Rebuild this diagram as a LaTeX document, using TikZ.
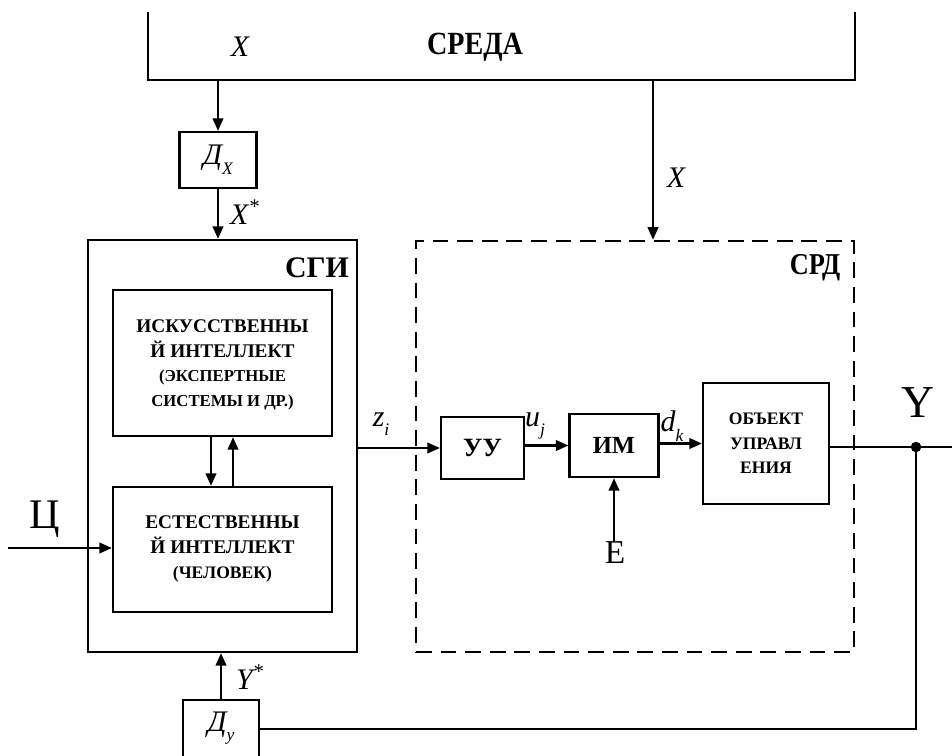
\documentclass[tikz,border=0pt]{standalone}
\usepackage{fontspec}
\setmainfont{Liberation Serif}
\usetikzlibrary{arrows.meta,positioning,calc}
\newcommand{\lowsub}[1]{\raisebox{-0.7ex}{\fontsize{10}{10}\selectfont #1}}

\begin{document}
\begin{tikzpicture}[
  x=0.02cm,y=-0.02cm,
  font=\bfseries\fontsize{11}{14}\selectfont,
  b/.style={draw,line width=1.3pt,align=center,inner sep=1pt},
  lab/.style={inner sep=0pt,font=\itshape\fontsize{17}{17}\selectfont},
  rom/.style={inner sep=0pt,font=\fontsize{#1}{#1}\selectfont},
  l/.style={line width=1.3pt},
  a/.style={l,-{Triangle[length=2.5mm,width=2.1mm]}},
  dsh/.style={line width=1.5pt,dash pattern=on 9pt off 5pt}]

\path[use as bounding box,clip] (0,0) rectangle (952,756);

% environment
\draw[l] (148,12) -- (148,80) -- (855,80) -- (855,12);
\coordinate (sx) at (218,80);
\coordinate (sx2) at (653,80);
\node[lab] (xa) at (240,47) {X};
\node[inner sep=0pt,font=\bfseries\fontsize{16}{16}\selectfont] (env) at (475,47) {\scalebox{1}[1.15]{СРЕДА}};

% sensor X
\node[b,minimum width=1.54cm,minimum height=1.12cm] (dx) at (218,160) {};
\node[lab] at (dx) {Д\lowsub{X}};
\draw[a] (sx) -- (dx.north);
\node[lab] (xs) at (245,212) {X\textsuperscript{*}};

% СГИ
\node[b,minimum width=5.38cm,minimum height=8.24cm] (sgi) at (222.5,446) {};
\draw[a] (dx.south) -- (dx.south |- sgi.north);
\node[inner sep=0pt,font=\bfseries\fontsize{17}{17}\selectfont] (sgil) at (317,268) {СГИ};
\node[b,minimum width=4.38cm,minimum height=2.92cm] (ii) at (222.5,363) {};
\node[inner sep=0pt,align=center] (iit) at (222.5,365) {ИСКУССТВЕННЫ\\Й ИНТЕЛЛЕКТ\\{\fontsize{9.5}{13}\selectfont(ЭКСПЕРТНЫЕ}\\{\fontsize{9.5}{13}\selectfont СИСТЕМЫ И ДР.)}};
\node[b,minimum width=4.38cm,minimum height=2.5cm] (ei) at (222.5,549.5) {};
\node[inner sep=0pt,align=center] (eit) at (222.5,549) {ЕСТЕСТВЕННЫ\\Й ИНТЕЛЛЕКТ\\{\fontsize{10}{13}\selectfont(ЧЕЛОВЕК)}};
\draw[a] ([xshift=-0.23cm]ii.south) -- ([xshift=-0.23cm]ei.north);
\draw[a] ([xshift=0.21cm]ei.north) -- ([xshift=0.21cm]ii.south);

% goal
\coordinate (c0) at (8,548);
\node[rom=24] (cl) at (45,519) {Ц};
\draw[a] (c0) -- (c0 -| ei.west);

% СРД
\node[draw,dsh,minimum width=8.76cm,minimum height=8.22cm] (srd) at (635,446.5) {};
\node[inner sep=0pt,font=\bfseries\fontsize{15}{15}\selectfont] (srdl) at (815,268) {\scalebox{1}[1.15]{СРД}};
\draw[a] (sx2) -- (sx2 |- srd.north);
\node[lab] (xb) at (676,178) {X};

\node[b,minimum width=1.66cm,minimum height=1.24cm,font=\bfseries\fontsize{15}{15}\selectfont] (uu) at (482.5,448) {УУ};
\node[b,minimum width=1.78cm,minimum height=1.26cm,font=\bfseries\fontsize{14}{14}\selectfont] (im) at (614,445.5) {ИМ};
\node[b,minimum width=2.52cm,minimum height=2.42cm,font=\bfseries\fontsize{10}{14}\selectfont] (ob) at (766,443.5) {ОБЪЕКТ\\УПРАВЛ\\ЕНИЯ};
\node[rom=19] (e) at (615,553) {Е};

\draw[a] (sgi.east |- uu.west) -- (uu.west);
\node[lab] (zl) at (381,424) {z\lowsub{i}};
\draw[a] (uu.east |- im.west) -- (im.west);
\node[lab] (ul) at (535,426) {u\lowsub{j}};
\draw[a] (im.east |- ob.west) -- (ob.west);
\node[lab] (dl) at (672,426) {d\lowsub{k}};
\draw[a] (im.south |- e.north) -- (im.south);

% output and feedback
\coordinate (yd) at (916,447);
\coordinate (yout) at (958,447);
\draw[l] (ob.east |- yd) -- (yd) -- (yout);
\fill (yd) circle (3pt);
\node[rom=26] (yl) at (918,403) {Y};

\node[b,minimum width=1.52cm,minimum height=1.24cm] (dy) at (221,731) {};
\node[lab] at (221,728) {Д\lowsub{y}};
\draw[l] (yd) |- (dy.east |- 0,729);
\draw[a] (dy.north) -- (dy.north |- sgi.south);
\node[lab] (ys) at (250,677) {Y\textsuperscript{*}};
\end{tikzpicture}
\end{document}
